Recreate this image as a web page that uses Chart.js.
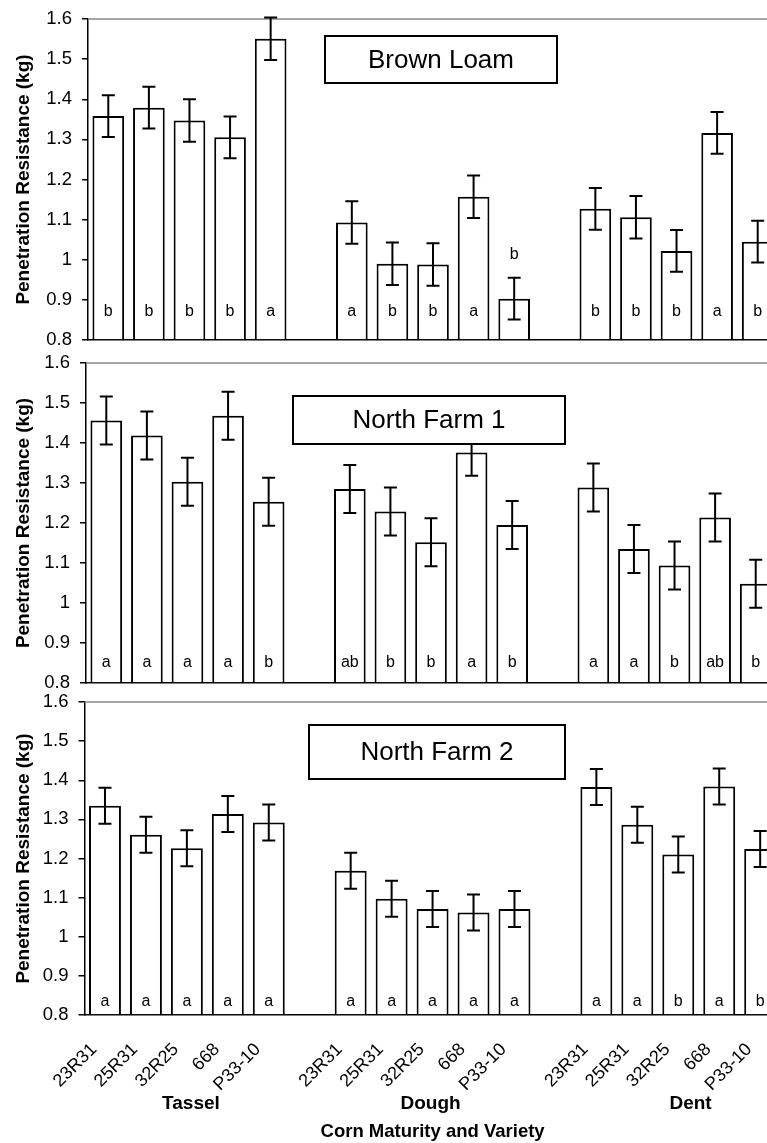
<!DOCTYPE html>
<html lang="en">
<head>
<meta charset="UTF-8">
<title>Penetration Resistance by Corn Maturity and Variety</title>
<script src="https://cdn.jsdelivr.net/npm/chart.js"></script>
<style>
  html, body { margin: 0; padding: 0; background: #fff; }
  #wrap { position: relative; width: 767px; height: 1143px; overflow: hidden; }
  .panel { position: absolute; left: 0; width: 800px; }
</style>
</head>
<body>
<div id="wrap">
  <div class="panel" style="top:0;height:356px"><canvas id="chart1"></canvas></div>
  <div class="panel" style="top:345px;height:350px"><canvas id="chart2"></canvas></div>
  <div class="panel" style="top:685px;height:458px"><canvas id="chart3"></canvas></div>
</div>
<script>
// categories: 5 varieties per maturity stage, one empty slot between stages
const varieties = ['23R31', '25R31', '32R25', '668', 'P33-10'];
const stages = ['Tassel', 'Dough', 'Dent'];
const stageCenters = [2.1, 7.95, 14.3]; // category index under each stage label
const categories = [...varieties, '', ...varieties, '', ...varieties];
const yTicks = ['0.8', '0.9', '1', '1.1', '1.2', '1.3', '1.4', '1.5', '1.6'];

// Brown Loam
const brownLoam = [1.358, 1.379, 1.347, 1.305, 1.551, null, 1.093, 0.990, 0.988, 1.157, 0.903, null, 1.127, 1.106, 1.022, 1.316, 1.045];
const brownLoamErr = [0.052, 0.052, 0.053, 0.052, 0.053, null, 0.053, 0.053, 0.053, 0.053, 0.052, null, 0.052, 0.053, 0.052, 0.052, 0.052];
const brownLoamLetters = ['b', 'b', 'b', 'b', 'a', '', 'a', 'b', 'b', 'a', 'b', '', 'b', 'b', 'b', 'a', 'b'];

// North Farm 1
const northFarm1 = [1.456, 1.419, 1.303, 1.468, 1.253, null, 1.285, 1.229, 1.152, 1.376, 1.195, null, 1.289, 1.135, 1.094, 1.214, 1.048];
const northFarm1Err = [0.060, 0.060, 0.060, 0.060, 0.060, null, 0.060, 0.060, 0.060, 0.058, 0.060, null, 0.060, 0.060, 0.060, 0.060, 0.060];
const northFarm1Letters = ['a', 'a', 'a', 'a', 'b', '', 'ab', 'b', 'b', 'a', 'b', '', 'a', 'a', 'b', 'ab', 'b'];

// North Farm 2
const northFarm2 = [1.335, 1.261, 1.226, 1.314, 1.292, null, 1.169, 1.097, 1.071, 1.062, 1.071, null, 1.383, 1.286, 1.210, 1.384, 1.224];
const northFarm2Err = [0.046, 0.046, 0.046, 0.046, 0.046, null, 0.046, 0.046, 0.046, 0.046, 0.046, null, 0.046, 0.046, 0.046, 0.046, 0.046];
const northFarm2Letters = ['a', 'a', 'a', 'a', 'a', '', 'a', 'a', 'a', 'a', 'a', '', 'a', 'a', 'b', 'a', 'b'];

const FONT = '"Liberation Sans", Arial, sans-serif';
Chart.defaults.font.family = FONT;
Chart.defaults.color = '#000';

const panels = [
  { canvas: 'chart1', title: 'Brown Loam', values: brownLoam, errors: brownLoamErr, letters: brownLoamLetters,
    letterLevel: 0.87, box: [325, 36, 557, 83], top: 19, left: 88, right: 22, bottomAxis: 16, showX: false },
  { canvas: 'chart2', title: 'North Farm 1', values: northFarm1, errors: northFarm1Err, letters: northFarm1Letters,
    letterLevel: 0.85, box: [293, 51, 565, 99], top: 18, left: 86, right: 24, bottomAxis: 12, showX: false },
  { canvas: 'chart3', title: 'North Farm 2', values: northFarm2, errors: northFarm2Err, letters: northFarm2Letters,
    letterLevel: 0.835, box: [309, 40, 565, 94], top: 17, left: 84.5, right: 19, bottomAxis: 128, showX: true }
];

function makeChart(p) {
  const decor = {
    id: 'decor',
    beforeDatasetsDraw(chart) {
      const { ctx, chartArea } = chart;
      ctx.save();
      ctx.strokeStyle = '#888';
      ctx.lineWidth = 1.5;
      ctx.beginPath();
      ctx.moveTo(chartArea.left, chartArea.top);
      ctx.lineTo(chartArea.right, chartArea.top);
      ctx.stroke();
      ctx.restore();
    },
    afterDatasetsDraw(chart) {
      const { ctx } = chart;
      const y = chart.scales.y;
      const bars = chart.getDatasetMeta(0).data;
      ctx.save();
      ctx.strokeStyle = '#000';
      ctx.lineWidth = 2;
      ctx.fillStyle = '#000';
      ctx.font = '16px ' + FONT;
      ctx.textAlign = 'center';
      ctx.textBaseline = 'middle';
      p.values.forEach((v, i) => {
        if (v == null) return;
        const x = bars[i].x;
        const e = p.errors[i];
        const yt = y.getPixelForValue(v + e);
        const yb = y.getPixelForValue(v - e);
        ctx.beginPath();
        ctx.moveTo(x, yt); ctx.lineTo(x, yb);
        ctx.moveTo(x - 6.5, yt); ctx.lineTo(x + 6.5, yt);
        ctx.moveTo(x - 6.5, yb); ctx.lineTo(x + 6.5, yb);
        ctx.stroke();
        // significance letter, lifted above the error bar when the bar is too short
        const ly = v < p.letterLevel + 0.06 ? v + e + 0.058 : p.letterLevel;
        ctx.fillText(p.letters[i], x, y.getPixelForValue(ly));
      });
      ctx.restore();
    },
    afterDraw(chart) {
      const { ctx } = chart;
      const [x1, y1, x2, y2] = p.box;
      ctx.save();
      ctx.fillStyle = '#fff';
      ctx.fillRect(x1, y1, x2 - x1, y2 - y1);
      ctx.strokeStyle = '#000';
      ctx.lineWidth = 2;
      ctx.strokeRect(x1, y1, x2 - x1, y2 - y1);
      ctx.fillStyle = '#000';
      ctx.font = '26px ' + FONT;
      ctx.textAlign = 'center';
      ctx.textBaseline = 'middle';
      ctx.fillText(p.title, (x1 + x2) / 2, (y1 + y2) / 2 + 1);
      if (p.showX) {
        const xs = chart.scales.x;
        ctx.font = 'bold 19px ' + FONT;
        stages.forEach((s, i) => {
          ctx.fillText(s, xs.getPixelForValue(stageCenters[i]), 419);
        });
      }
      ctx.restore();
    }
  };

  return new Chart(document.getElementById(p.canvas), {
    type: 'bar',
    data: {
      labels: categories,
      datasets: [{
        data: p.values,
        backgroundColor: '#fff',
        borderColor: '#000',
        borderWidth: 2,
        borderSkipped: 'start',
        base: 0.8,
        barPercentage: 0.78,
        categoryPercentage: 1
      }]
    },
    options: {
      responsive: true,
      maintainAspectRatio: false,
      animation: false,
      devicePixelRatio: 1,
      layout: { padding: { top: p.top, right: p.right, left: 0, bottom: 0 } },
      plugins: { legend: { display: false }, tooltip: { enabled: false } },
      scales: {
        x: {
          grid: { display: false, drawTicks: false },
          border: { display: true, color: '#000', width: 1.5 },
          ticks: {
            display: p.showX,
            autoSkip: false,
            minRotation: 45,
            maxRotation: 45,
            padding: 24,
            labelOffset: -11,
            font: { size: 18 },
            color: '#000'
          },
          title: {
            display: p.showX,
            text: 'Corn Maturity and Variety',
            font: { size: 18.5, weight: 'bold' },
            color: '#000',
            padding: { top: 0, bottom: 0 }
          },
          afterFit(scale) { scale.height = p.bottomAxis; }
        },
        y: {
          min: 0.8,
          max: 1.6,
          grid: { drawOnChartArea: false, drawTicks: true, tickLength: 6, color: '#000', lineWidth: 1.5 },
          border: { display: true, color: '#000', width: 1.5 },
          ticks: {
            stepSize: 0.1,
            padding: 10,
            font: { size: 18.5 },
            color: '#000',
            callback: v => yTicks[Math.round((v - 0.8) * 10)]
          },
          title: {
            display: true,
            text: 'Penetration Resistance (kg)',
            font: { size: 19, weight: 'bold' },
            color: '#000',
            padding: { top: 12, bottom: 0 }
          },
          afterFit(scale) {
            scale.width = p.left;
            scale.paddingTop = 0;
            scale.paddingBottom = 0;
          }
        }
      }
    },
    plugins: [decor]
  });
}

panels.forEach(makeChart);
</script>
</body>
</html>
